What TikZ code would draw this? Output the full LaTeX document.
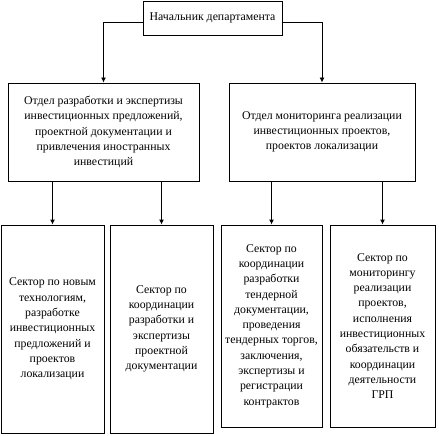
\documentclass[tikz,border=0pt]{standalone}
\usepackage{fontspec}
\setmainfont{Liberation Serif}
\usetikzlibrary{arrows.meta}
\begin{document}
\begin{tikzpicture}[x=1pt,y=-1pt,
  box/.style={draw,line width=0.9pt,inner sep=0pt,align=center,
    font=\fontsize{11.8}{15.3}\selectfont},
  arr/.style={line width=0.9pt,-{Latex[length=5pt,width=5pt]}}]
\useasboundingbox (0,0) rectangle (439,436);
\node[box,minimum width=139pt,minimum height=34pt] (top) at (212.5,18) {Начальник департамента};
\node[box,minimum width=191pt,minimum height=98pt] (d1) at (103.5,132)
  {Отдел разработки и экспертизы\\инвестиционных предложений,\\проектной документации и\\привлечения иностранных\\инвестиций};
\node[box,minimum width=186pt,minimum height=98pt] (d2) at (322,132)
  {Отдел мониторинга реализации\\инвестиционных проектов,\\проектов локализации};
\node[box,minimum width=103pt,minimum height=208pt] (b1) at (52.5,329)
  {Сектор по новым\\технологиям,\\разработке\\инвестиционных\\предложений и\\проектов\\локализации};
\node[box,minimum width=103pt,minimum height=208pt] (b2) at (161.5,329)
  {Сектор по\\координации\\разработки и\\экспертизы\\проектной\\документации};
\node[box,minimum width=101pt,minimum height=202pt] (b3) at (271.5,326)
  {Сектор по\\координации\\разработки\\тендерной\\документации,\\проведения\\тендерных торгов,\\заключения,\\экспертизы и\\регистрации\\контрактов};
\node[box,minimum width=105pt,minimum height=202pt] (b4) at (382.5,326)
  {Сектор по\\мониторингу\\реализации\\проектов,\\исполнения\\инвестиционных\\обязательств и\\координации\\деятельности\\ГРП};
\draw[arr] ([yshift=-4pt]top.west) -| (d1.north);
\draw[arr] ([yshift=-4pt]top.east) -| (d2.north);
\draw[arr] (d1.south -| b1.north) -- (b1.north);
\draw[arr] (d1.south -| b2.north) -- (b2.north);
\draw[arr] (d2.south -| b3.north) -- (b3.north);
\draw[arr] (d2.south -| b4.north) -- (b4.north);
\end{tikzpicture}
\end{document}
